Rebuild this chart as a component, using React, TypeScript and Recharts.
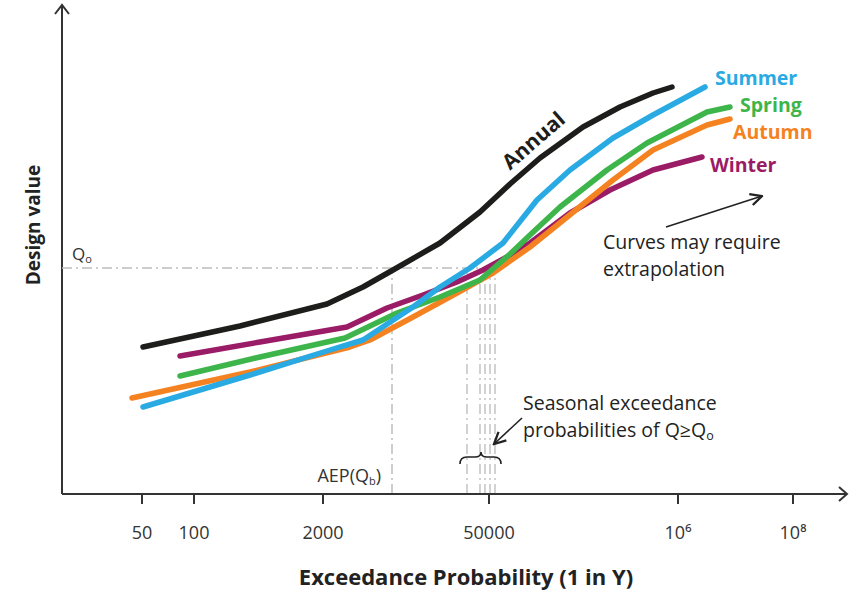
import React from "react";
import { LineChart, Line, XAxis, YAxis, ReferenceLine } from "recharts";

// schematic axis: x is position along the (non-uniform) probability axis, y is design value
const annualX = [81, 178, 265, 301, 331, 378, 418, 448, 478, 521, 558, 591, 610];
const annualY = [147, 168, 190, 207, 224, 251, 282, 310, 336, 367, 387, 401, 407];
const summerX = [81, 188, 268, 301, 351, 378, 408, 441, 475, 508, 551, 591, 643];
const summerY = [87, 119, 144, 154, 187, 207, 226, 251, 294, 324, 356, 379, 407];
const springX = [118, 198, 283, 335, 378, 418, 448, 468, 498, 545, 585, 645, 668];
const springY = [118, 137, 156, 181, 197, 214, 240, 259, 287, 324, 351, 382, 387];
const autumnX = [70, 188, 288, 308, 351, 395, 431, 468, 551, 591, 645, 668];
const autumnY = [96, 122, 147, 154, 177, 201, 221, 247, 314, 344, 369, 375];
const winterX = [118, 198, 285, 325, 361, 395, 421, 445, 468, 508, 548, 591, 640];
const winterY = [138, 152, 167, 186, 199, 212, 224, 237, 251, 281, 304, 324, 337];

const tickPos = [80, 132, 261, 427, 616, 731];
const tickLabels = ["50", "100", "2000", "50000", "10⁶", "10⁸"];

const qoLevel = 226;
const aepX = 330;
const seasonalX = [405, 418, 423, 428, 433];

const zip = (xs: number[], ys: number[]) => xs.map((x, i) => ({ x, y: ys[i] }));

const series = [
  { name: "Annual", color: "#1d1d1b", data: zip(annualX, annualY) },
  { name: "Winter", color: "#9b1c66", data: zip(winterX, winterY) },
  { name: "Autumn", color: "#f58221", data: zip(autumnX, autumnY) },
  { name: "Spring", color: "#3db54a", data: zip(springX, springY) },
  { name: "Summer", color: "#2aaae2", data: zip(summerX, summerY) },
];

// end-of-curve labels (pixel anchors)
const seasonLabels = [
  { name: "Summer", color: "#2aaae2", x: 715, y: 85 },
  { name: "Spring", color: "#3db54a", x: 740, y: 112 },
  { name: "Autumn", color: "#f58221", x: 733, y: 139 },
  { name: "Winter", color: "#9b1c66", x: 710, y: 172 },
];

const W = 861;
const H = 594;
const XAXIS_H = 30;
const M = { top: 5, right: 14, bottom: 100 - XAXIS_H, left: 62 };
const PX = (x: number) => M.left + x;
const PY = (y: number) => 494 - y;
const FONT = "'Open Sans', sans-serif";
const dash = "10 4 2 4";

const Tick = (props: any) => {
  const { x, y, payload } = props;
  const i = tickPos.indexOf(payload.value);
  return (
    <text x={x} y={y + 33} textAnchor="middle" fontSize={18} fill="#333" fontFamily={FONT}>
      {tickLabels[i]}
    </text>
  );
};

export default function App() {
  return (
    <div style={{ position: "absolute", left: 0, top: 0, width: W, height: H, background: "#fff" }}>
      <LineChart width={W} height={H} margin={M}>
        <XAxis
          type="number"
          dataKey="x"
          height={XAXIS_H}
          domain={[0, 785]}
          ticks={tickPos}
          tick={<Tick />}
          tickSize={10}
          tickLine={{ stroke: "#333", strokeWidth: 2 }}
          axisLine={{ stroke: "#333", strokeWidth: 2 }}
          allowDataOverflow
        />
        <YAxis type="number" dataKey="y" domain={[0, 489]} hide allowDataOverflow />
        <ReferenceLine x={0} stroke="#333" strokeWidth={2} />
        <ReferenceLine
          segment={[{ x: 0, y: qoLevel }, { x: seasonalX[seasonalX.length - 1], y: qoLevel }]}
          stroke="#bdbdbd"
          strokeWidth={1.5}
          strokeDasharray={dash}
        />
        <ReferenceLine
          segment={[{ x: aepX, y: 0 }, { x: aepX, y: qoLevel }]}
          stroke="#bdbdbd"
          strokeWidth={1.5}
          strokeDasharray={dash}
        />
        {seasonalX.map((sx) => (
          <ReferenceLine
            key={sx}
            segment={[{ x: sx, y: 0 }, { x: sx, y: qoLevel }]}
            stroke="#c4c4c4"
            strokeWidth={1.5}
            strokeDasharray={dash}
          />
        ))}
        {series.map((s) => (
          <Line
            key={s.name}
            data={s.data}
            dataKey="y"
            type="linear"
            stroke={s.color}
            strokeWidth={5.5}
            strokeLinecap="round"
            strokeLinejoin="round"
            dot={false}
            activeDot={false}
            isAnimationActive={false}
          />
        ))}
      </LineChart>
      <svg
        width={W}
        height={H}
        style={{ position: "absolute", left: 0, top: 0, pointerEvents: "none" }}
        fontFamily={FONT}
      >
        <defs>
          <marker id="arr" viewBox="0 0 10 10" refX="9" refY="5" markerWidth="9" markerHeight="9" orient="auto">
            <path d="M1,1 L9,5 L1,9" fill="none" stroke="#222" strokeWidth="1.6" />
          </marker>
        </defs>
        {/* axis arrow heads */}
        <polyline points={`${PX(0) - 7},14 ${PX(0)},5 ${PX(0) + 7},14`} fill="none" stroke="#333" strokeWidth={2} />
        <polyline
          points={`${W - M.right - 8},${PY(0) - 7} ${W - M.right},${PY(0)} ${W - M.right - 8},${PY(0) + 7}`}
          fill="none"
          stroke="#333"
          strokeWidth={2}
        />
        {/* axis titles */}
        <text
          x={33}
          y={225}
          transform="rotate(-90 33 225)"
          textAnchor="middle"
          dominantBaseline="central"
          fontSize={19}
          fontWeight={700}
          fill="#222"
        >
          Design value
        </text>
        <text x={466} y={585} textAnchor="middle" fontSize={22} fontWeight={700} fill="#222">
          Exceedance Probability (1 in Y)
        </text>
        {/* Qo and AEP labels */}
        <text x={72} y={260} fontSize={17} fill="#333">
          Q<tspan fontSize={11} dy={3}>o</tspan>
        </text>
        <text x={PX(aepX) - 11} y={482} textAnchor="end" fontSize={18} fill="#333">
          AEP(Q<tspan fontSize={11} dy={3}>b</tspan>
          <tspan dy={-3}>)</tspan>
        </text>
        {/* seasonal brace + note */}
        <path
          d="M460,464 Q460,457 467,457 L475,457 Q481,457 481,452 Q481,457 487,457 L494,457 Q501,457 501,464"
          fill="none"
          stroke="#222"
          strokeWidth={1.6}
        />
        <line x1={522} y1={418} x2={494} y2={444} stroke="#222" strokeWidth={1.6} markerEnd="url(#arr)" />
        <text x={523} y={410} fontSize={19.5} fill="#222">
          Seasonal exceedance
        </text>
        <text x={523} y={437} fontSize={19.5} fill="#222">
          probabilities of Q≥Q<tspan fontSize={12.5} dy={3}>o</tspan>
        </text>
        {/* extrapolation note */}
        <line x1={666} y1={227} x2={762} y2={196} stroke="#222" strokeWidth={1.6} markerEnd="url(#arr)" />
        <text x={603} y={249} fontSize={19.5} fill="#222">
          Curves may require
        </text>
        <text x={603} y={276} fontSize={19.5} fill="#222">
          extrapolation
        </text>
        {/* series labels */}
        {seasonLabels.map((l) => (
          <text key={l.name} x={l.x} y={l.y} fill={l.color} fontSize={19.5} fontWeight={700}>
            {l.name}
          </text>
        ))}
        <text
          x={533}
          y={140}
          transform="rotate(-41 533 140)"
          textAnchor="middle"
          dominantBaseline="central"
          fontSize={21}
          fontWeight={700}
          fill="#1d1d1b"
        >
          Annual
        </text>
      </svg>
    </div>
  );
}
